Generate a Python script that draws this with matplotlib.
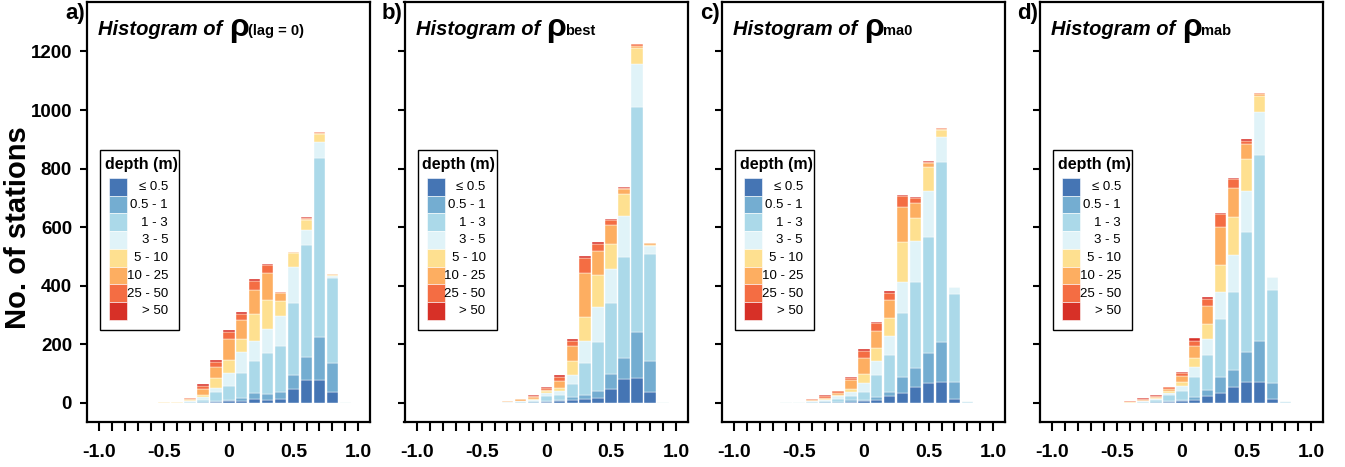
import matplotlib
matplotlib.use("Agg")
import matplotlib.pyplot as plt
from matplotlib.patches import Rectangle
from matplotlib import font_manager

# ---------------- data ----------------
depth_labels = ["\u2264 0.5", "0.5 - 1", "1 - 3", "3 - 5", "5 - 10", "10 - 25", "25 - 50", "> 50"]
depth_colors = ["#4575b4", "#74add1", "#abd9e9", "#e0f3f8", "#fee090", "#fdae61", "#f46d43", "#d73027"]

# panel a: rho (lag = 0)
bins_a = [-0.5, -0.4, -0.3, -0.2, -0.1, 0.0, 0.1, 0.2, 0.3, 0.4, 0.5, 0.6, 0.7, 0.8, 0.9]
a_le05 = [0, 0, 0, 1, 2, 5, 6, 14, 11, 14, 49, 78, 78, 36, 0]
a_05_1 = [0, 0, 1, 2, 3, 6, 10, 19, 19, 23, 46, 80, 146, 101, 0]
a_1_3 = [0, 0, 2, 8, 31, 48, 86, 111, 141, 158, 248, 380, 611, 288, 1]
a_3_5 = [1, 1, 2, 8, 16, 42, 71, 69, 80, 102, 120, 52, 55, 10, 2]
a_5_10 = [1, 2, 5, 9, 32, 45, 47, 91, 99, 50, 48, 33, 29, 3, 0]
a_10_25 = [1, 0, 4, 18, 39, 71, 64, 82, 93, 28, 4, 6, 4, 1, 0]
a_25_50 = [1, 0, 3, 12, 18, 26, 21, 31, 27, 3, 1, 4, 1, 0, 0]
a_gt50 = [0, 0, 1, 8, 7, 7, 5, 6, 3, 1, 0, 1, 0, 0, 0]

# panel b: rho best
bins_b = [-0.3, -0.2, -0.1, 0.0, 0.1, 0.2, 0.3, 0.4, 0.5, 0.6, 0.7, 0.8, 0.9]
b_le05 = [0, 0, 1, 2, 6, 9, 14, 17, 47, 81, 84, 36, 0]
b_05_1 = [0, 1, 1, 6, 5, 13, 13, 25, 51, 73, 158, 108, 0]
b_1_3 = [1, 3, 5, 15, 15, 44, 110, 165, 243, 345, 770, 363, 1]
b_3_5 = [1, 2, 4, 10, 16, 30, 73, 121, 116, 138, 146, 29, 1]
b_5_10 = [1, 2, 4, 9, 8, 48, 85, 110, 87, 76, 53, 5, 0]
b_10_25 = [2, 4, 5, 3, 24, 52, 150, 81, 64, 17, 9, 4, 0]
b_25_50 = [0, 2, 3, 5, 15, 15, 51, 25, 15, 4, 5, 0, 0]
b_gt50 = [0, 0, 3, 3, 6, 7, 6, 4, 4, 2, 1, 0, 0]

# panel c: rho ma0
bins_c = [-0.6, -0.5, -0.4, -0.3, -0.2, -0.1, 0.0, 0.1, 0.2, 0.3, 0.4, 0.5, 0.6, 0.7, 0.8]
c_le05 = [0, 0, 0, 1, 1, 4, 7, 11, 23, 33, 56, 69, 70, 15, 0]
c_05_1 = [0, 0, 0, 1, 2, 5, 4, 11, 16, 54, 64, 101, 137, 58, 0]
c_1_3 = [1, 1, 3, 4, 12, 16, 28, 74, 126, 219, 293, 395, 616, 298, 3]
c_3_5 = [1, 2, 2, 4, 8, 14, 28, 48, 62, 108, 139, 158, 84, 25, 2]
c_5_10 = [0, 0, 2, 4, 4, 10, 32, 43, 62, 137, 80, 83, 26, 0, 0]
c_10_25 = [0, 0, 3, 4, 7, 28, 55, 60, 63, 117, 52, 13, 4, 0, 0]
c_25_50 = [0, 0, 2, 5, 6, 8, 25, 25, 25, 37, 16, 5, 2, 0, 0]
c_gt50 = [0, 0, 0, 5, 2, 4, 5, 5, 5, 6, 3, 1, 0, 0, 0]

# panel d: rho mab
bins_d = [-0.5, -0.4, -0.3, -0.2, -0.1, 0.0, 0.1, 0.2, 0.3, 0.4, 0.5, 0.6, 0.7, 0.8]
d_le05 = [0, 0, 0, 1, 3, 7, 9, 25, 35, 53, 70, 70, 15, 0]
d_05_1 = [0, 0, 1, 1, 3, 4, 10, 20, 52, 58, 103, 142, 53, 0]
d_1_3 = [0, 0, 3, 7, 20, 31, 69, 120, 201, 268, 410, 635, 316, 3]
d_3_5 = [1, 1, 2, 4, 7, 15, 35, 54, 92, 126, 140, 148, 45, 2]
d_5_10 = [0, 1, 2, 4, 8, 15, 29, 50, 91, 131, 110, 52, 1, 0]
d_10_25 = [0, 2, 3, 4, 8, 19, 41, 62, 131, 97, 51, 8, 0, 0]
d_25_50 = [0, 1, 4, 4, 5, 11, 20, 23, 42, 31, 12, 3, 0, 0]
d_gt50 = [0, 0, 1, 2, 2, 5, 8, 7, 4, 3, 4, 0, 0, 0]

panel_letters = ["a)", "b)", "c)", "d)"]
panel_subscripts = ["(lag = 0)", "best", "ma0", "mab"]
x_ticks = [-1.0, -0.9, -0.8, -0.7, -0.6, -0.5, -0.4, -0.3, -0.2, -0.1, 0.0,
           0.1, 0.2, 0.3, 0.4, 0.5, 0.6, 0.7, 0.8, 0.9, 1.0]
x_ticklabels = ["-1.0", "", "", "", "", "-0.5", "", "", "", "", "0",
                "", "", "", "", "0.5", "", "", "", "", "1.0"]
y_ticks = [0, 200, 400, 600, 800, 1000, 1200]
y_ticklabels = ["0", "200", "400", "600", "800", "1000", "1200"]
y_label = "No. of stations"

panels = [
    (bins_a, [a_le05, a_05_1, a_1_3, a_3_5, a_5_10, a_10_25, a_25_50, a_gt50]),
    (bins_b, [b_le05, b_05_1, b_1_3, b_3_5, b_5_10, b_10_25, b_25_50, b_gt50]),
    (bins_c, [c_le05, c_05_1, c_1_3, c_3_5, c_5_10, c_10_25, c_25_50, c_gt50]),
    (bins_d, [d_le05, d_05_1, d_1_3, d_3_5, d_5_10, d_10_25, d_25_50, d_gt50]),
]

# ---------------- style ----------------
BASE = ["Liberation Sans", "DejaVu Sans"]
plt.rcParams["font.family"] = BASE
avail = {f.name for f in font_manager.fontManager.ttflist}
if "Liberation Sans Narrow" in avail:
    LEG_FONT = ["Liberation Sans Narrow", "Liberation Sans", "DejaVu Sans"]
    LEG_SIZE = 10.5
else:
    LEG_FONT = BASE
    LEG_SIZE = 9.5

W, H = 1345, 467
fig = plt.figure(figsize=(W / 100, H / 100), dpi=100)

lefts = [87, 404.5, 722, 1040]
fw, ftop, fbot = 283, 2, 422
fh = fbot - ftop


def P(dx, dy):
    """pixel offsets from frame top-left -> axes fraction"""
    return dx / fw, 1 - dy / fh


for i, (bins, layers) in enumerate(panels):
    ax = fig.add_axes([lefts[i] / W, (H - fbot) / H, fw / W, fh / H])
    bottom = [0] * len(bins)
    for vals, col in zip(layers, depth_colors):
        ax.bar(bins, vals, bottom=bottom, width=0.088, color=col,
               edgecolor="white", linewidth=0.3, zorder=2)
        bottom = [b + v for b, v in zip(bottom, vals)]

    ax.set_xlim(-1.095, 1.09)
    ax.set_ylim(-65, 1369)
    for s in ax.spines.values():
        s.set_linewidth(1.6)
    ax.set_xticks(x_ticks)
    ax.set_xticklabels(x_ticklabels)
    ax.set_yticks(y_ticks)
    if i == 0:
        ax.set_yticklabels(y_ticklabels)
    else:
        ax.set_yticklabels([])
    ax.tick_params(axis="x", direction="out", length=6.8, width=1.5, pad=9,
                   labelsize=14)
    ax.tick_params(axis="y", direction="out", length=4.8, width=1.5, pad=6,
                   labelsize=13.5)
    for lab in ax.get_xticklabels() + ax.get_yticklabels():
        lab.set_fontweight("bold")

    # title
    ax.text(*P(11, 33), "Histogram of", transform=ax.transAxes, fontsize=14.5,
            fontweight="bold", fontstyle="italic", ha="left", va="baseline")
    ax.text(*P(142, 34), "\u03c1", transform=ax.transAxes, fontsize=23,
            fontweight="bold", ha="left", va="baseline")
    ax.text(*P(161, 33), panel_subscripts[i], transform=ax.transAxes,
            fontsize=10.5, fontweight="bold", ha="left", va="baseline")

    # panel letter
    ax.text(*P(-2, 17), panel_letters[i], transform=ax.transAxes, fontsize=16,
            fontweight="bold", ha="right", va="baseline", clip_on=False)

    # legend
    bx0, bx1, by0, by1 = 13, 92, 148, 328
    ax.add_patch(Rectangle(P(bx0, by1), (bx1 - bx0) / fw, (by1 - by0) / fh,
                           transform=ax.transAxes, fill=True, facecolor="white",
                           edgecolor="black", linewidth=1.0, zorder=5))
    ax.text(*P(54, 162), "depth (m)", transform=ax.transAxes, fontsize=11.5,
            fontweight="bold", ha="center", va="center", zorder=6)
    row_h = 17.7
    for k, (lab, col) in enumerate(zip(depth_labels, depth_colors)):
        top = 176 + k * row_h
        ax.add_patch(Rectangle(P(22, top + row_h), 18 / fw, row_h / fh,
                               transform=ax.transAxes, facecolor=col,
                               edgecolor="white", linewidth=0.4, zorder=6))
        ax.text(*P(81, top + row_h / 2 + 0.5), lab, transform=ax.transAxes,
                fontsize=LEG_SIZE, family=LEG_FONT, ha="right", va="center",
                zorder=6)

fig.text(18 / W, 1 - 228 / H, y_label, rotation=90, fontsize=21,
         fontweight="bold", ha="center", va="center")

fig.savefig("out.png", dpi=100)
